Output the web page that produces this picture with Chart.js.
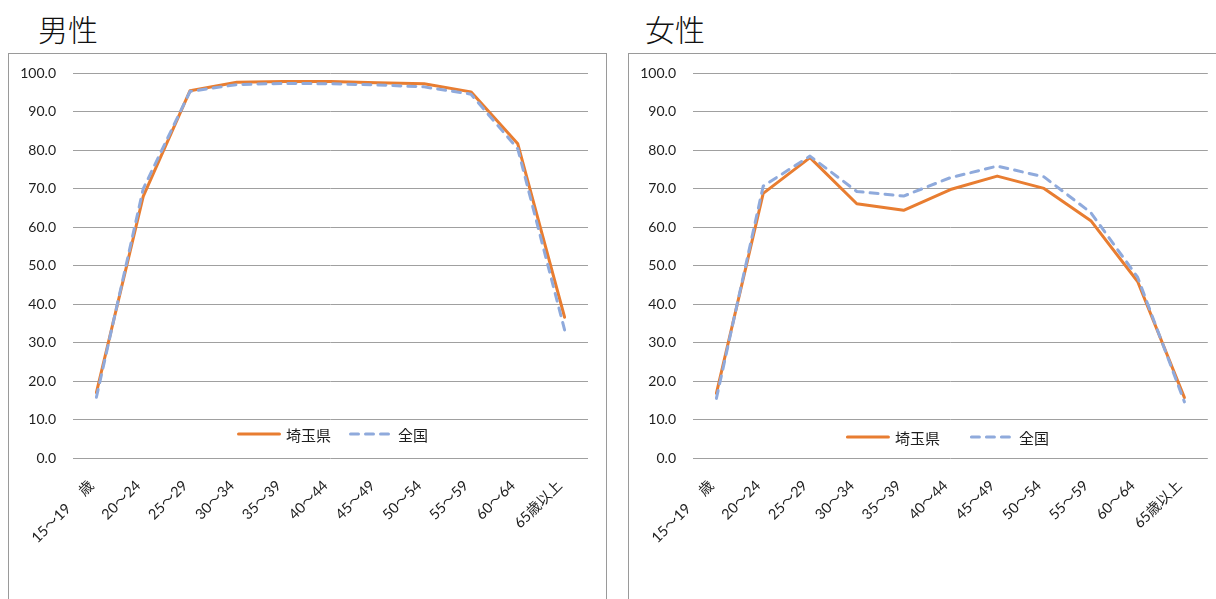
<!DOCTYPE html>
<html lang="ja">
<head>
<meta charset="utf-8">
<title>労働力率（男女・年齢階級別）</title>
<script src="https://cdn.jsdelivr.net/npm/chart.js"></script>
<style>
  html, body { margin: 0; padding: 0; background: #fff; overflow: hidden; }
  body { width: 1216px; height: 599px; position: relative; }
  .title {
    position: absolute; top: 13px; font-family: "Noto Sans CJK JP", sans-serif;
    font-weight: 300; font-size: 30px; line-height: 30px; color: #111;
  }
  .panel {
    position: absolute; top: 53px; border: 1px solid #9a9a9a; background: #fff;
    height: 580px; overflow: hidden;
  }
  .panel canvas { display: block; margin-top: -6px; }
</style>
</head>
<body>
<div class="title" style="left:38px">男性</div>
<div class="title" style="left:645px">女性</div>
<div class="panel" style="left:8px; width:597px"><canvas id="male" width="597" height="551"></canvas></div>
<div class="panel" style="left:628px; width:600px"><canvas id="female" width="587" height="551"></canvas></div>
<script>
// 年齢階級
const ageGroups = ['15～19　 歳', '20～24', '25～29', '30～34', '35～39', '40～44', '45～49', '50～54', '55～59', '60～64', '65歳以上'];

// 労働力率（%）
const maleSaitama    = [17.0, 68.0, 95.5, 97.7, 97.9, 97.9, 97.6, 97.3, 95.2, 81.7, 36.6];
const maleNational   = [15.8, 70.0, 95.3, 97.1, 97.4, 97.3, 97.0, 96.5, 94.6, 80.4, 33.3];
const femaleSaitama  = [16.8, 68.8, 78.1, 66.1, 64.4, 69.8, 73.3, 70.1, 61.7, 45.9, 15.7];
const femaleNational = [15.5, 70.7, 78.5, 69.3, 68.1, 72.9, 75.9, 73.1, 63.8, 47.0, 14.6];

const seriesNames = ['埼玉県', '全国'];
const yTicks = { min: 0, max: 100, step: 10 };

const ORANGE = '#e87d31';
const BLUE = '#8faadc';
const TEXT = '#1e1e1e';
const GRID = '#a0a0a0';
const NUM_FONT = 'Lato, "Noto Sans CJK JP", sans-serif';
const JP_FONT = '"Noto Sans CJK JP", sans-serif';

// 凡例をプロット領域の下部に重ねて描く
const legendInside = {
  id: 'legendInside',
  afterDraw(chart, args, opts) {
    const { ctx, chartArea } = chart;
    ctx.save();
    ctx.font = opts.font;
    const items = chart.data.datasets.map(ds => ({ ds, w: ctx.measureText(ds.label).width }));
    const total = items.reduce((s, it) => s + opts.lineLength + opts.textGap + it.w, 0) +
      opts.itemGap * (items.length - 1);
    let x = (chartArea.left + chartArea.right) / 2 - total / 2 + opts.shift;
    const y = chartArea.bottom - opts.lift;
    items.forEach(it => {
      ctx.strokeStyle = it.ds.borderColor;
      ctx.lineWidth = it.ds.borderWidth;
      ctx.lineCap = it.ds.borderCapStyle || 'butt';
      ctx.setLineDash(it.ds.borderDash || []);
      ctx.beginPath();
      ctx.moveTo(x + 1.5, y);
      ctx.lineTo(x + opts.lineLength - 1.5, y);
      ctx.stroke();
      ctx.setLineDash([]);
      ctx.fillStyle = TEXT;
      ctx.textBaseline = 'middle';
      ctx.textAlign = 'left';
      ctx.fillText(it.ds.label, x + opts.lineLength + opts.textGap, y + 1);
      x += opts.lineLength + opts.textGap + it.w + opts.itemGap;
    });
    ctx.restore();
  }
};

function makeChart(id, local, national, rightPad, legendOpts) {
  return new Chart(document.getElementById(id), {
    type: 'line',
    data: {
      labels: ageGroups,
      datasets: [
        {
          label: seriesNames[0], data: local, borderColor: ORANGE, backgroundColor: ORANGE,
          borderWidth: 3, pointRadius: 0, tension: 0, borderCapStyle: 'round',
          borderJoinStyle: 'round', order: 2
        },
        {
          label: seriesNames[1], data: national, borderColor: BLUE, backgroundColor: BLUE,
          borderWidth: 3, pointRadius: 0, tension: 0, borderDash: [8, 7], borderCapStyle: 'round',
          borderJoinStyle: 'round', order: 1
        }
      ]
    },
    options: {
      responsive: false,
      animation: false,
      devicePixelRatio: 1,
      layout: { padding: { top: 12, right: rightPad, bottom: 0, left: 0 } },
      plugins: {
        legend: { display: false },
        tooltip: { enabled: false },
        legendInside: legendOpts
      },
      scales: {
        x: {
          type: 'category',
          offset: true,
          grid: { display: false, drawTicks: false },
          border: { display: false },
          ticks: {
            autoSkip: false, maxRotation: 45, minRotation: 45,
            padding: 19, labelOffset: -5,
            color: TEXT, font: { family: NUM_FONT, size: 14.5 }
          },
          afterFit(scale) { scale.height = 141; }
        },
        y: {
          min: yTicks.min, max: yTicks.max,
          grid: { color: GRID, lineWidth: 1, drawTicks: false },
          border: { display: false },
          ticks: {
            stepSize: yTicks.step, padding: 17, color: TEXT,
            font: { family: NUM_FONT, size: 14 },
            callback: v => Number(v).toFixed(1)
          },
          afterFit(scale) { scale.width = 64; }
        }
      }
    },
    plugins: [legendInside]
  });
}

makeChart('male', maleSaitama, maleNational, 18,
  { lift: 24, lineLength: 44, textGap: 5, itemGap: 18, shift: 2, font: '15px ' + JP_FONT });
makeChart('female', femaleSaitama, femaleNational, 6,
  { lift: 21, lineLength: 44, textGap: 5, itemGap: 30, shift: -3, font: '15px ' + JP_FONT });
</script>
</body>
</html>
